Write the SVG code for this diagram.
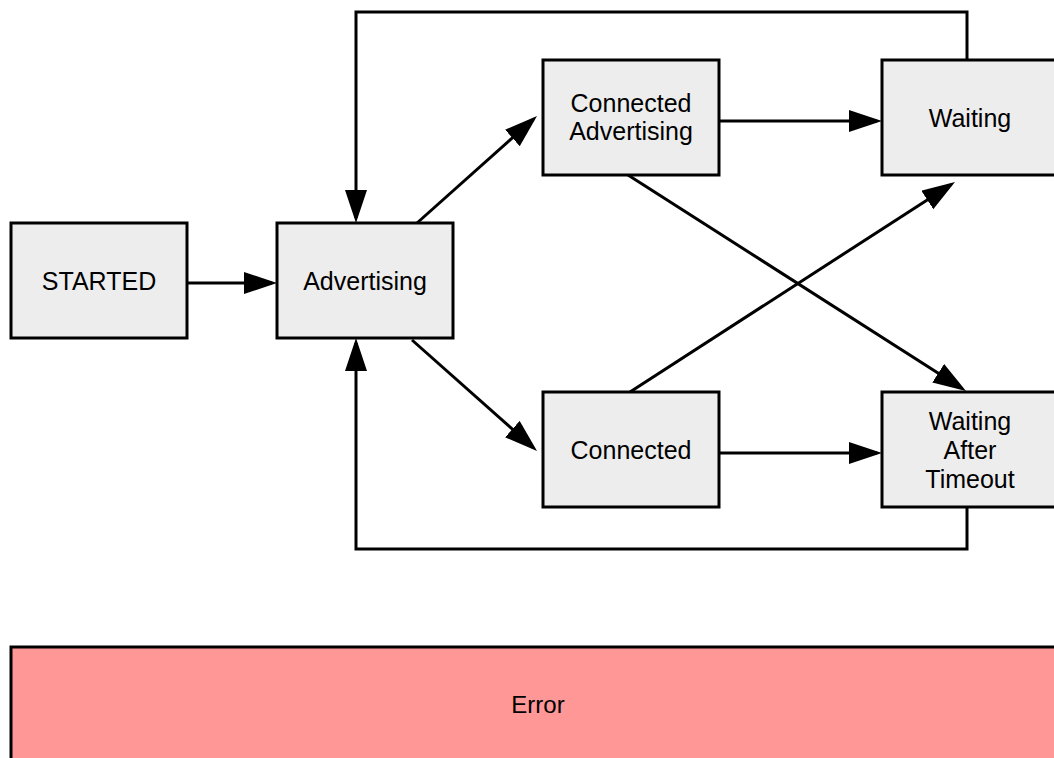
<svg xmlns="http://www.w3.org/2000/svg" width="1054" height="758" viewBox="0 0 1054 758">
  <style>
    .state { fill: #ededed; stroke: #000; stroke-width: 3; }
    .err { fill: #ff9797; stroke: #000; stroke-width: 3; }
    .label { font-family: "Liberation Sans", Arial, sans-serif; font-size: 25px; fill: #000; text-anchor: middle; }
    .edge { fill: none; stroke: #000; stroke-width: 3; marker-end: url(#arrow); }
  </style>
  <defs>
    <marker id="arrow" markerUnits="userSpaceOnUse" markerWidth="34" markerHeight="24" refX="28" refY="11" orient="auto">
      <path d="M0,0 L33,11 L0,22 Z" fill="#000"/>
    </marker>
  </defs>
  <rect width="1054" height="758" fill="#fff"/>

  <g id="connectors">
    <path class="edge" d="M188,283 H272"/>
    <path class="edge" d="M967,60 V12 H356 V218"/>
    <path class="edge" d="M967,507 V549 H356 V343"/>
    <path class="edge" d="M417,223 L533.3,119.3"/>
    <path class="edge" d="M412,340 L533.3,447.7"/>
    <path class="edge" d="M720,121 H877"/>
    <path class="edge" d="M720,453 H877"/>
    <path class="edge" d="M628,175 L961.8,388.3"/>
    <path class="edge" d="M630,392 L950.8,184.7"/>
  </g>

  <g id="started">
    <rect class="state" x="11" y="223" width="176" height="115"/>
    <text class="label" x="99" y="290">STARTED</text>
  </g>
  <g id="advertising">
    <rect class="state" x="277" y="223" width="176" height="115"/>
    <text class="label" x="365" y="290">Advertising</text>
  </g>
  <g id="connected-advertising">
    <rect class="state" x="543" y="60" width="176" height="115"/>
    <text class="label" x="631" y="112">Connected</text>
    <text class="label" x="631" y="140">Advertising</text>
  </g>
  <g id="waiting">
    <rect class="state" x="882" y="60" width="176" height="115"/>
    <text class="label" x="970" y="127">Waiting</text>
  </g>
  <g id="connected">
    <rect class="state" x="543" y="392" width="176" height="115"/>
    <text class="label" x="631" y="459">Connected</text>
  </g>
  <g id="waiting-after-timeout">
    <rect class="state" x="882" y="392" width="176" height="115"/>
    <text class="label" x="970" y="430">Waiting</text>
    <text class="label" x="970" y="459">After</text>
    <text class="label" x="970" y="488">Timeout</text>
  </g>
  <g id="error">
    <rect class="err" x="11" y="647" width="1060" height="130"/>
    <text class="label" x="538" y="713" style="font-size:24px">Error</text>
  </g>
</svg>
